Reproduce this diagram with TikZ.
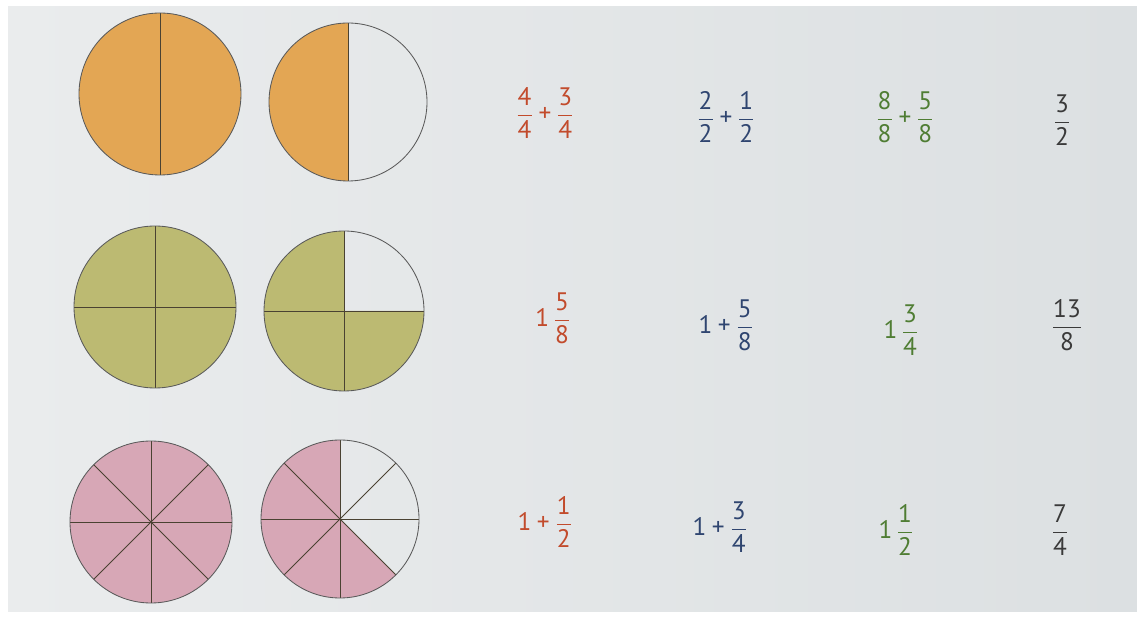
\documentclass[tikz,border=0pt]{standalone}
\usepackage{amsmath}
\usepackage{fontspec}
\setmainfont{PT Sans}
\definecolor{pageleft}{HTML}{EAECED}
\definecolor{pageright}{HTML}{DCE0E2}
\definecolor{orangefill}{HTML}{E3A654}
\definecolor{olivefill}{HTML}{BCBA72}
\definecolor{pinkfill}{HTML}{D7A7B6}
\definecolor{rimgrey}{HTML}{5A5A5A}
\definecolor{cutbrown}{HTML}{4A4232}
\definecolor{sumred}{HTML}{C24B2C}
\definecolor{sumblue}{HTML}{2F4570}
\definecolor{sumgreen}{HTML}{4F7D33}
\definecolor{sumdark}{HTML}{3A3A3A}

\begin{document}
\begin{tikzpicture}[x=0.025cm,y=0.025cm,
  rim/.style={draw=rimgrey,line width=0.6pt},
  cut/.style={draw=cutbrown,line width=0.6pt},
  sum/.style={inner sep=0pt,font=\fontsize{18}{22}\selectfont}]
  \useasboundingbox (0,0) rectangle (1137,618);
  \fill[white] (0,0) rectangle (1137,618);
  \shade[left color=pageleft,right color=pageright] (8,7) rectangle (1137,611);

  % centres of the circles
  \coordinate (c11) at (160,524);
  \coordinate (c12) at (348,516);
  \coordinate (c21) at (155,311);
  \coordinate (c22) at (344,307);
  \coordinate (c31) at (151,96);
  \coordinate (c32) at (340,99);

  % halves
  \fill[orangefill] (c11) circle (81);
  \draw[cut] (c11) ++(0,81) -- ++(0,-162);
  \draw[rim] (c11) circle (81);
  \fill[orangefill] (c12) -- ++(90:79) arc[start angle=90,end angle=270,radius=79] -- cycle;
  \draw[cut] (c12) ++(0,79) -- ++(0,-158);
  \draw[rim] (c12) circle (79);

  % quarters
  \fill[olivefill] (c21) circle (81);
  \foreach \a in {0,90,180,270}
    \draw[cut] (c21) -- ++(\a:81);
  \draw[rim] (c21) circle (81);
  \fill[olivefill] (c22) -- ++(90:80) arc[start angle=90,end angle=360,radius=80] -- cycle;
  \foreach \a in {0,90,180,270}
    \draw[cut] (c22) -- ++(\a:80);
  \draw[rim] (c22) circle (80);

  % eighths
  \fill[pinkfill] (c31) circle (81);
  \foreach \a in {0,45,...,315}
    \draw[cut] (c31) -- ++(\a:81);
  \draw[rim] (c31) circle (81);
  \fill[pinkfill] (c32) -- ++(90:79) arc[start angle=90,end angle=315,radius=79] -- cycle;
  \foreach \a in {0,45,...,315}
    \draw[cut] (c32) -- ++(\a:79);
  \draw[rim] (c32) circle (79);

  % row 1
  \node[sum,text=sumred] (s11) at (545,505) {$\dfrac{\text{4}}{\text{4}}\mathbin{\text{+}}\dfrac{\text{3}}{\text{4}}$};
  \node[sum,text=sumblue] (s12) at (726,501) {$\dfrac{\text{2}}{\text{2}}\mathbin{\text{+}}\dfrac{\text{1}}{\text{2}}$};
  \node[sum,text=sumgreen] (s13) at (905,501) {$\dfrac{\text{8}}{\text{8}}\mathbin{\text{+}}\dfrac{\text{5}}{\text{8}}$};
  \node[sum,text=sumdark] (s14) at (1062,498) {$\dfrac{\text{3}}{\text{2}}$};

  % row 2
  \node[sum,text=sumred] (s21) at (553,300) {$\text{1}\,\dfrac{\text{5}}{\text{8}}$};
  \node[sum,text=sumblue] (s22) at (726,293) {$\text{1}\mathbin{\text{+}}\dfrac{\text{5}}{\text{8}}$};
  \node[sum,text=sumgreen] (s23) at (901,288) {$\text{1}\,\dfrac{\text{3}}{\text{4}}$};
  \node[sum,text=sumdark] (s24) at (1067,293) {$\dfrac{\text{13}}{\text{8}}$};

  % row 3
  \node[sum,text=sumred] (s31) at (545,96) {$\text{1}\mathbin{\text{+}}\dfrac{\text{1}}{\text{2}}$};
  \node[sum,text=sumblue] (s32) at (720,91) {$\text{1}\mathbin{\text{+}}\dfrac{\text{3}}{\text{4}}$};
  \node[sum,text=sumgreen] (s33) at (896,88) {$\text{1}\,\dfrac{\text{1}}{\text{2}}$};
  \node[sum,text=sumdark] (s34) at (1060,88) {$\dfrac{\text{7}}{\text{4}}$};
\end{tikzpicture}
\end{document}
